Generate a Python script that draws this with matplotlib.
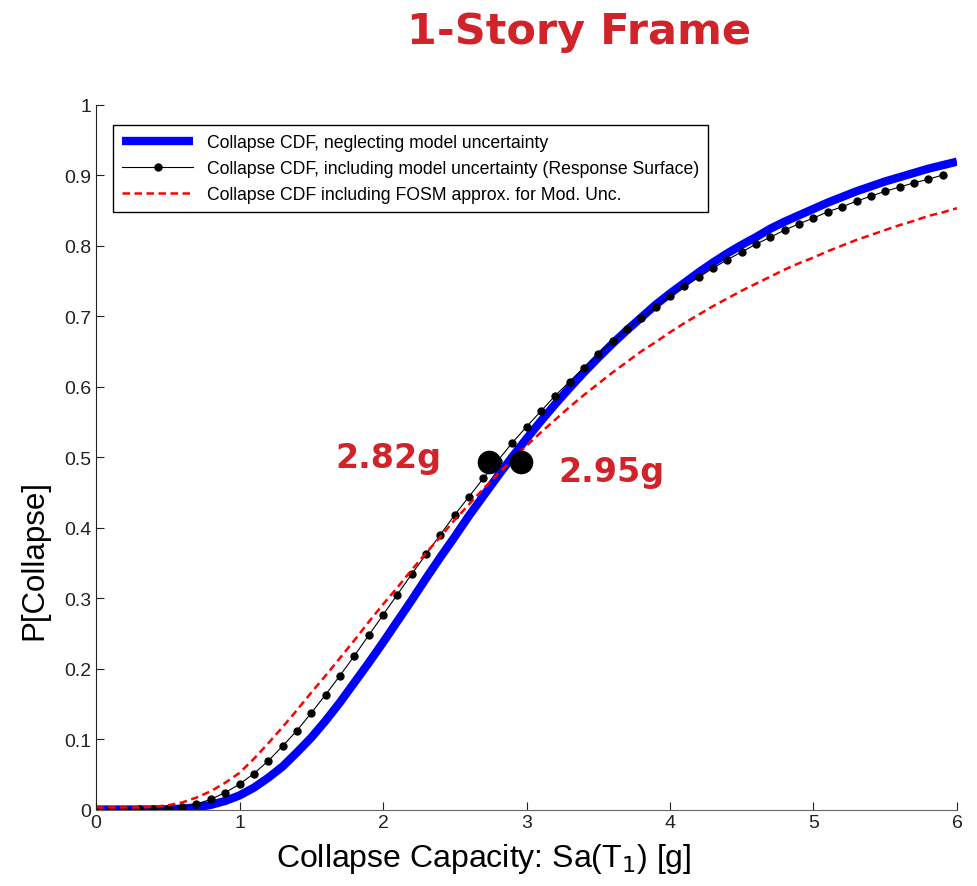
import numpy as np
import matplotlib.pyplot as plt

# Sa(T1) grid and read-off collapse probabilities
sa = np.round(np.arange(0, 6.01, 0.1), 1)

p_blue = [0, 0, 0, 0, 0.0001, 0.0004, 0.0012, 0.0031, 0.0066, 0.0122,
          0.020, 0.031, 0.045, 0.061, 0.081, 0.102, 0.126, 0.152, 0.180, 0.208,
          0.237, 0.267, 0.297, 0.328, 0.358, 0.387, 0.417, 0.445, 0.473, 0.500,
          0.526, 0.551, 0.575, 0.598, 0.620, 0.641, 0.661, 0.680, 0.698, 0.716,
          0.732, 0.747, 0.762, 0.776, 0.789, 0.801, 0.812, 0.824, 0.834, 0.843,
          0.852, 0.861, 0.869, 0.877, 0.884, 0.891, 0.897, 0.903, 0.909, 0.914,
          0.919]

sa_rs = sa[:-1]
p_black = [0, 0, 0, 0.0001, 0.0004, 0.0014, 0.0037, 0.0079, 0.0145, 0.024,
           0.036, 0.051, 0.069, 0.090, 0.112, 0.137, 0.163, 0.190, 0.218, 0.247,
           0.276, 0.305, 0.334, 0.362, 0.390, 0.418, 0.444, 0.470, 0.495, 0.520,
           0.543, 0.565, 0.587, 0.607, 0.627, 0.646, 0.664, 0.681, 0.697, 0.713,
           0.728, 0.742, 0.755, 0.768, 0.780, 0.791, 0.802, 0.812, 0.822, 0.831,
           0.839, 0.848, 0.855, 0.863, 0.870, 0.877, 0.883, 0.889, 0.894, 0.900]

p_red = [0.003, 0.003, 0.003, 0.003, 0.004, 0.006, 0.010, 0.017, 0.026, 0.038,
         0.052, 0.072, 0.094, 0.117, 0.141, 0.166, 0.190, 0.215, 0.240, 0.266,
         0.291, 0.315, 0.340, 0.364, 0.387, 0.411, 0.433, 0.455, 0.476, 0.496,
         0.516, 0.535, 0.553, 0.571, 0.588, 0.604, 0.620, 0.635, 0.650, 0.663,
         0.677, 0.690, 0.702, 0.714, 0.725, 0.736, 0.746, 0.756, 0.766, 0.775,
         0.783, 0.792, 0.800, 0.808, 0.815, 0.822, 0.829, 0.835, 0.842, 0.847,
         0.853]

median_x = [2.74, 2.96]
median_y = [0.493, 0.493]
median_labels = ['2.82g', '2.95g']

plt.rcParams['font.family'] = ['Liberation Sans', 'DejaVu Sans']
red_txt = '#D0232A'

fig = plt.figure(figsize=(9.77, 8.87), dpi=100)
ax = fig.add_axes([0.0983, 0.0862, 0.8812, 0.7948])

ax.plot(sa, p_blue, color='#0000FF', lw=6, solid_capstyle='butt',
        label='Collapse CDF, neglecting model uncertainty')
ax.plot(sa_rs, p_black, color='black', lw=0.8, marker='o', ms=5,
        label='Collapse CDF, including model uncertainty (Response Surface)')
ax.plot(sa, p_red, color='#FF0000', lw=1.8, ls=(0, (3, 1.8)),
        label='Collapse CDF including FOSM approx. for Mod. Unc.')
ax.plot(median_x, median_y, 'o', color='black', ms=16, zorder=5)

ax.text(1.665, 0.50, median_labels[0], color=red_txt, fontsize=24,
        fontweight='bold', family='DejaVu Sans', va='center', ha='left')
ax.text(3.22, 0.48, median_labels[1], color=red_txt, fontsize=24,
        fontweight='bold', family='DejaVu Sans', va='center', ha='left')

ax.set_xlim(0, 6)
ax.set_ylim(0, 1)
ax.set_xticks(range(0, 7))
ax.set_yticks(np.round(np.arange(0, 1.01, 0.1), 1))
ax.set_yticklabels(['0', '0.1', '0.2', '0.3', '0.4', '0.5', '0.6', '0.7',
                    '0.8', '0.9', '1'])
ax.tick_params(direction='in', length=6, labelsize=14, colors='#222222')
ax.spines['top'].set_visible(False)
ax.spines['right'].set_visible(False)
ax.spines['bottom'].set_color('#666666')
ax.spines['left'].set_color('#222222')

ax.set_xlabel('Collapse Capacity: Sa(T$_1$) [g]', fontsize=23, labelpad=6)
ax.xaxis.set_label_coords(0.45, -0.045, transform=ax.transAxes)
ax.xaxis.label.set_va('top')
ax.set_ylabel('P[Collapse]', fontsize=22.5)
ax.yaxis.set_label_coords(-0.054, 0.355)

leg = ax.legend(loc='upper left', bbox_to_anchor=(0.010, 0.983), fontsize=12.7,
                frameon=True, fancybox=False, framealpha=1, edgecolor='black',
                handlelength=4, borderpad=0.5, labelspacing=0.5)
leg.get_frame().set_linewidth(1.0)

fig.text(0.593, 0.964, '1-Story Frame', color=red_txt, fontsize=31,
         fontweight='bold', family='DejaVu Sans', ha='center', va='center')

fig.savefig('out.png', dpi=100)
